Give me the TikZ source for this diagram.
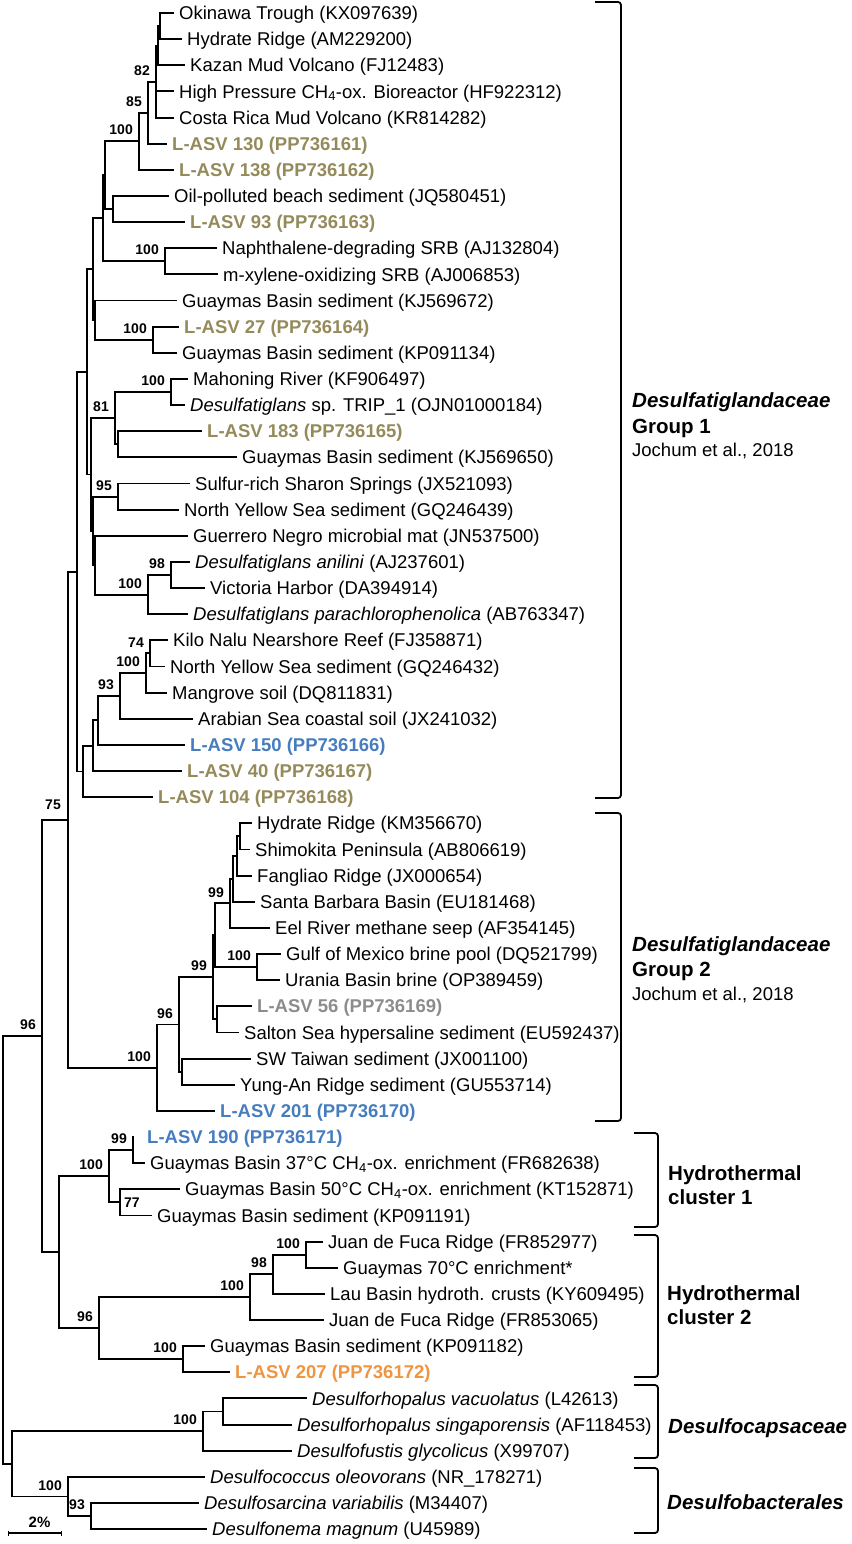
\documentclass[tikz,border=0pt]{standalone}
\usepackage{fontspec}
\setmainfont{Liberation Sans}
\usetikzlibrary{calc}
\definecolor{asvolive}{RGB}{148,138,90}
\definecolor{asvblue}{RGB}{70,125,190}
\definecolor{asvgray}{RGB}{140,140,140}
\definecolor{asvorange}{RGB}{240,148,64}
\newcommand\tleaf[4]{%
  \pgfmathsetmacro\lfy{13+26.14*(#1-1)}%
  \node[leaf,#3] (T#1) at (#2,\lfy+6.6) {#4};%
  \coordinate (E#1) at (#2-6,\lfy);%
}
\newcommand\clade[5]{%
  \path let \p1=(#3), \p2=(#4) in coordinate (#1) at (#2pt,{0.5*\y1+0.5*\y2});%
  \draw[tree] (#3 -| #1) -- (#4 -| #1);%
  \foreach \chd in {#5}{\draw[tree] (\chd -| #1) -- (\chd);}%
}
\newcommand\bs[2]{\node[bsl] (s#1) at ($(#1)+(-6,-6)$) {#2};}
\newcommand\bsat[4]{\node[bsl] (s#1) at ($(#1)+(#2,#3)$) {#4};}
\begin{document}
\begin{tikzpicture}[x=1pt,y=-1pt,
  tree/.style={line width=1.9pt,line cap=rect},
  brk/.style={line width=1.8pt,rounded corners=3pt},
  leaf/.style={anchor=base west,inner sep=0pt,font=\fontsize{18.5}{20}\selectfont},
  ol/.style={text=asvolive,font=\fontsize{18.5}{20}\selectfont\bfseries},
  bl/.style={text=asvblue,font=\fontsize{18.5}{20}\selectfont\bfseries},
  gr/.style={text=asvgray,font=\fontsize{18.5}{20}\selectfont\bfseries},
  or/.style={text=asvorange,font=\fontsize{18.5}{20}\selectfont\bfseries},
  bsl/.style={anchor=south east,inner sep=0pt,font=\fontsize{14}{14}\selectfont\bfseries},
  grp/.style={anchor=base west,inner sep=0pt,font=\fontsize{20.5}{22}\selectfont\bfseries},
  grpsub/.style={anchor=base west,inner sep=0pt,font=\fontsize{18.5}{20}\selectfont}]
\useasboundingbox (0,0) rectangle (851,1544);
% ---------- leaves ----------
\tleaf{1}{179}{}{Okinawa Trough (KX097639)}
\tleaf{2}{187}{}{Hydrate Ridge (AM229200)}
\tleaf{3}{190}{}{Kazan Mud Volcano (FJ12483)}
\tleaf{4}{179}{}{High Pressure CH\textsubscript{4}-ox. Bioreactor (HF922312)}
\tleaf{5}{179}{}{Costa Rica Mud Volcano (KR814282)}
\tleaf{6}{172}{ol}{L-ASV 130 (PP736161)}
\tleaf{7}{179}{ol}{L-ASV 138 (PP736162)}
\tleaf{8}{174}{}{Oil-polluted beach sediment (JQ580451)}
\tleaf{9}{190}{ol}{L-ASV 93 (PP736163)}
\tleaf{10}{222}{}{Naphthalene-degrading SRB (AJ132804)}
\tleaf{11}{223}{}{m-xylene-oxidizing SRB (AJ006853)}
\tleaf{12}{182}{}{Guaymas Basin sediment (KJ569672)}
\tleaf{13}{184}{ol}{L-ASV 27 (PP736164)}
\tleaf{14}{182}{}{Guaymas Basin sediment (KP091134)}
\tleaf{15}{193}{}{Mahoning River (KF906497)}
\tleaf{16}{190}{}{\textit{Desulfatiglans} sp. TRIP\_1 (OJN01000184)}
\tleaf{17}{207}{ol}{L-ASV 183 (PP736165)}
\tleaf{18}{242}{}{Guaymas Basin sediment (KJ569650)}
\tleaf{19}{195}{}{Sulfur-rich Sharon Springs (JX521093)}
\tleaf{20}{184}{}{North Yellow Sea sediment (GQ246439)}
\tleaf{21}{193}{}{Guerrero Negro microbial mat (JN537500)}
\tleaf{22}{195}{}{\textit{Desulfatiglans anilini} (AJ237601)}
\tleaf{23}{210}{}{Victoria Harbor (DA394914)}
\tleaf{24}{193}{}{\textit{Desulfatiglans parachlorophenolica} (AB763347)}
\tleaf{25}{173}{}{Kilo Nalu Nearshore Reef (FJ358871)}
\tleaf{26}{170}{}{North Yellow Sea sediment (GQ246432)}
\tleaf{27}{172}{}{Mangrove soil (DQ811831)}
\tleaf{28}{198}{}{Arabian Sea coastal soil (JX241032)}
\tleaf{29}{190}{bl}{L-ASV 150 (PP736166)}
\tleaf{30}{187}{ol}{L-ASV 40 (PP736167)}
\tleaf{31}{158}{ol}{L-ASV 104 (PP736168)}
\tleaf{32}{257}{}{Hydrate Ridge (KM356670)}
\tleaf{33}{255}{}{Shimokita Peninsula (AB806619)}
\tleaf{34}{257}{}{Fangliao Ridge (JX000654)}
\tleaf{35}{260}{}{Santa Barbara Basin (EU181468)}
\tleaf{36}{275}{}{Eel River methane seep (AF354145)}
\tleaf{37}{286}{}{Gulf of Mexico brine pool (DQ521799)}
\tleaf{38}{285}{}{Urania Basin brine (OP389459)}
\tleaf{39}{257}{gr}{L-ASV 56 (PP736169)}
\tleaf{40}{244}{}{Salton Sea hypersaline sediment (EU592437)}
\tleaf{41}{256}{}{SW Taiwan sediment (JX001100)}
\tleaf{42}{240}{}{Yung-An Ridge sediment (GU553714)}
\tleaf{43}{220}{bl}{L-ASV 201 (PP736170)}
\tleaf{44}{147}{bl}{L-ASV 190 (PP736171)}
\tleaf{45}{150}{}{Guaymas Basin 37°C CH\textsubscript{4}-ox. enrichment (FR682638)}
\tleaf{46}{185}{}{Guaymas Basin 50°C CH\textsubscript{4}-ox. enrichment (KT152871)}
\tleaf{47}{157}{}{Guaymas Basin sediment (KP091191)}
\tleaf{48}{328}{}{Juan de Fuca Ridge (FR852977)}
\tleaf{49}{343}{}{Guaymas 70°C enrichment*}
\tleaf{50}{330}{}{Lau Basin hydroth. crusts (KY609495)}
\tleaf{51}{329}{}{Juan de Fuca Ridge (FR853065)}
\tleaf{52}{210}{}{Guaymas Basin sediment (KP091182)}
\tleaf{53}{235}{or}{L-ASV 207 (PP736172)}
\tleaf{54}{312}{}{\textit{Desulforhopalus vacuolatus} (L42613)}
\tleaf{55}{297}{}{\textit{Desulforhopalus singaporensis} (AF118453)}
\tleaf{56}{297}{}{\textit{Desulfofustis glycolicus} (X99707)}
\tleaf{57}{210}{}{\textit{Desulfococcus oleovorans} (NR\_178271)}
\tleaf{58}{204}{}{\textit{Desulfosarcina variabilis} (M34407)}
\tleaf{59}{212}{}{\textit{Desulfonema magnum} (U45989)}
\coordinate (E44) at (133,{13+26.14*43});
% ---------- Group 1 ----------
\clade{a1}{160}{E1}{E2}{E1,E2}
\clade{a2}{158}{a1}{E3}{a1,E3}
\clade{a3}{156}{a2}{E5}{a2,E4,E5}
\clade{n82}{148}{a3}{E6}{a3,E6}
\clade{n85}{139}{n82}{E7}{n82,E7}
\clade{noil}{113}{E8}{E9}{E8,E9}
\clade{nt}{105}{n85}{noil}{n85,noil}
\clade{nnaph}{165}{E10}{E11}{E10,E11}
\clade{r1}{103}{nt}{nnaph}{nt,nnaph}
\clade{n27}{153}{E13}{E14}{E13,E14}
\clade{g12}{95}{E12}{n27}{E12,n27}
\clade{r2}{93}{r1}{g12}{r1,g12}
\clade{nmah}{171}{E15}{E16}{E15,E16}
\clade{n183}{118}{E17}{E18}{E17,E18}
\clade{n81}{115}{nmah}{n183}{nmah,n183}
\clade{n95}{118}{E19}{E20}{E19,E20}
\clade{n98}{171}{E22}{E23}{E22,E23}
\clade{n100d}{148}{n98}{E24}{n98,E24}
\clade{ns}{95}{E21}{n100d}{E21,n100d}
\clade{ntt}{93}{n95}{ns}{n95,ns}
\clade{nu}{91}{n81}{ntt}{n81,ntt}
\clade{pp}{87}{r2}{nu}{r2,nu}
\clade{n74}{150}{E25}{E26}{E25,E26}
\clade{n100c}{146}{n74}{E27}{n74,E27}
\clade{n93}{120}{n100c}{E28}{n100c,E28}
\clade{n98b}{98}{n93}{E29}{n93,E29}
\clade{n93b}{93}{n98b}{E30}{n98b,E30}
\clade{n83}{83}{n93b}{E31}{n93b,E31}
\clade{g1}{77}{pp}{n83}{pp,n83}
% ---------- Group 2 ----------
\clade{nh1}{240}{E32}{E33}{E32,E33}
\clade{nh2}{237}{nh1}{E34}{nh1,E34}
\clade{nh3}{233}{nh2}{E35}{nh2,E35}
\clade{n99u}{230}{nh3}{E36}{nh3,E36}
\clade{ngu}{257}{E37}{E38}{E37,E38}
\clade{nk}{215}{n99u}{ngu}{n99u,ngu}
\clade{n56}{217}{E39}{E40}{E39,E40}
\clade{n99l}{213}{nk}{n56}{nk,n56}
\clade{nsw}{182}{E41}{E42}{E41,E42}
\clade{n96}{179}{n99l}{nsw}{n99l,nsw}
\clade{g2}{157}{n96}{E43}{n96,E43}
\clade{n75}{68}{g1}{g2}{g1,g2}
% ---------- Hydrothermal ----------
\clade{n99h}{133}{E44}{E45}{E44,E45}
\clade{n77}{120}{E46}{E47}{E46,E47}
\clade{hc1}{109}{n99h}{n77}{n99h,n77}
\clade{nj}{306}{E48}{E49}{E48,E49}
\clade{n98h}{273}{nj}{E50}{nj,E50}
\clade{n100h}{250}{n98h}{E51}{n98h,E51}
\clade{ng}{183}{E52}{E53}{E52,E53}
\clade{hc2}{99}{n100h}{ng}{n100h,ng}
\clade{hh}{59}{hc1}{hc2}{hc1,hc2}
\clade{xx}{42}{n75}{hh}{n75,hh}
% ---------- outgroups ----------
\clade{ndv}{223}{E54}{E55}{E54,E55}
\clade{ndc}{203}{ndv}{E56}{ndv,E56}
\clade{n93d}{91}{E58}{E59}{E58,E59}
\clade{ndb}{68}{E57}{n93d}{E57,n93d}
\clade{dd}{12}{ndc}{ndb}{ndc,ndb}
\clade{root}{3}{xx}{dd}{xx,dd}
% ---------- support values ----------
\bs{a3}{82} \bs{n82}{85} \bs{n85}{100} \bs{nnaph}{100} \bs{n27}{100}
\bs{nmah}{100} \bs{n81}{81} \bs{n95}{95} \bs{n98}{98} \bs{n100d}{100}
\bs{n74}{74} \bs{n100c}{100} \bs{n93}{93}
\bsat{n75}{-7}{-10}{75}
\bs{n99u}{99} \bs{ngu}{100} \bs{n99l}{99} \bs{n96}{96} \bs{g2}{100}
\bs{n99h}{99} \bs{hc1}{100}
\node[bsl,anchor=west] (sn77) at ($(n77)+(4,0)$) {77};
\bs{nj}{100} \bs{n98h}{98} \bs{n100h}{100} \bs{hc2}{96} \bs{ng}{100}
\bs{ndc}{100} \bs{ndb}{100} \bs{n93d}{93} \bs{xx}{96}
% ---------- scale bar ----------
\coordinate (sbA) at (8,1533);
\coordinate (sbB) at (61,1533);
\draw[line width=1.6pt] (sbA) -- (sbB);
\draw[line width=1pt] ($(sbA)+(0,-2.5)$) -- ($(sbA)+(0,2.5)$);
\draw[line width=1pt] ($(sbB)+(0,-2.5)$) -- ($(sbB)+(0,2.5)$);
\node[bsl,anchor=base,font=\fontsize{15}{15}\selectfont\bfseries] (sbt) at (39.5,1527) {2\%};
% ---------- brackets ----------
\draw[brk] (595,2) -- (621,2) -- (621,798) -- (595,798);
\draw[brk] (595,813) -- (621,813) -- (621,1121) -- (595,1121);
\draw[brk] (634,1133) -- (658,1133) -- (658,1227) -- (634,1227);
\draw[brk] (634,1235) -- (658,1235) -- (658,1377) -- (634,1377);
\draw[brk] (634,1385) -- (658,1385) -- (658,1458) -- (634,1458);
\draw[brk] (634,1468) -- (658,1468) -- (658,1533) -- (634,1533);
% ---------- group labels ----------
\node[grp] (g1a) at (632,407) {\textit{Desulfatiglandaceae}};
\node[grp] (g1b) at (632,433) {Group 1};
\node[grpsub] (g1c) at (632,456) {Jochum et al., 2018};
\node[grp] (g2a) at (632,951) {\textit{Desulfatiglandaceae}};
\node[grp] (g2b) at (632,976) {Group 2};
\node[grpsub] (g2c) at (632,1000) {Jochum et al., 2018};
\node[grp] (h1a) at (668,1180) {Hydrothermal};
\node[grp] (h1b) at (668,1204) {cluster 1};
\node[grp] (h2a) at (667,1300) {Hydrothermal};
\node[grp] (h2b) at (667,1324) {cluster 2};
\node[grp] (dca) at (668,1433) {\textit{Desulfocapsaceae}};
\node[grp] (dba) at (667,1509) {\textit{Desulfobacterales}};
\end{tikzpicture}
\end{document}
